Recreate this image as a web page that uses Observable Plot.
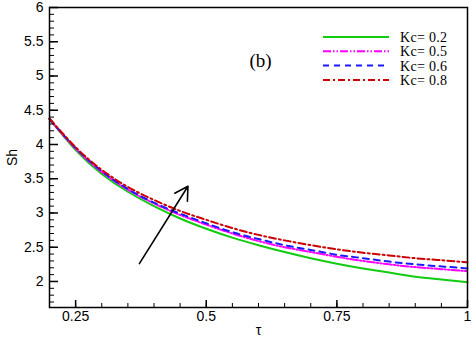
<!DOCTYPE html>
<html>
<head>
<meta charset="utf-8">
<script src="https://cdn.jsdelivr.net/npm/d3@7"></script>
<script src="https://cdn.jsdelivr.net/npm/@observablehq/plot@0.6"></script>
<style>
  html, body { margin: 0; padding: 0; background: #fff; }
  #wrap { position: relative; width: 475px; height: 338px; }
  #legend { position: absolute; left: 0; top: 0; }
</style>
</head>
<body>
<div id="wrap"></div>
<script>
// ---- data ----
const tau = [0.2, 0.25, 0.3, 0.35, 0.4, 0.45, 0.5, 0.55, 0.6, 0.65, 0.7, 0.75, 0.8, 0.85, 0.9, 0.95, 1.0];
const shKc02 = [4.37, 3.92, 3.57, 3.31, 3.10, 2.92, 2.77, 2.64, 2.53, 2.43, 2.34, 2.26, 2.19, 2.13, 2.07, 2.03, 1.99];
const shKc05 = [4.37, 3.94, 3.60, 3.34, 3.14, 2.97, 2.83, 2.70, 2.59, 2.50, 2.43, 2.36, 2.30, 2.25, 2.21, 2.18, 2.15];
const shKc06 = [4.37, 3.95, 3.61, 3.35, 3.15, 2.99, 2.85, 2.72, 2.62, 2.53, 2.46, 2.39, 2.34, 2.29, 2.25, 2.22, 2.19];
const shKc08 = [4.38, 3.96, 3.63, 3.38, 3.19, 3.03, 2.90, 2.78, 2.68, 2.60, 2.53, 2.47, 2.42, 2.38, 2.34, 2.31, 2.28];
const seriesNames = ["Kc= 0.2", "Kc= 0.5", "Kc= 0.6", "Kc= 0.8"];
const seriesValues = [shKc02, shKc05, shKc06, shKc08];
const seriesColors = ["#11cc11", "#ff00ff", "#1a1aff", "#cc0000"];
const seriesDash = [null, "8,2,1.5,2,1.5,2", "6,5", "7,3,2,3"];
const xTicks = [0.25, 0.5, 0.75, 1];
const xTickLabels = ["0.25", "0.5", "0.75", "1"];
const xMinor = d3.range(0.2, 1.0001, 0.05).map(v => +v.toFixed(2));
const yTicks = [2, 2.5, 3, 3.5, 4, 4.5, 5, 5.5, 6];
const yTickLabels = ["2", "2.5", "3", "3.5", "4", "4.5", "5", "5.5", "6"];
const yMinor = d3.range(1.7, 6.0001, 0.1).map(v => +v.toFixed(1));
const arrowData = [{x1: 0.372, y1: 2.26, x2: 0.465, y2: 3.39}];
const panelLabel = "(b)";

const rows = [];
seriesNames.forEach((name, i) => {
  tau.forEach((t, j) => rows.push({series: name, tau: t, sh: seriesValues[i][j]}));
});

const marks = [];
seriesNames.forEach((name, i) => {
  marks.push(Plot.line(rows.filter(d => d.series === name), {
    x: "tau", y: "sh", stroke: seriesColors[i], strokeWidth: 2,
    strokeDasharray: seriesDash[i] || undefined, curve: "natural"
  }));
});

const chart = Plot.plot({
  width: 475, height: 338,
  marginLeft: 49, marginTop: 7, marginRight: 8, marginBottom: 31,
  style: {fontFamily: "'Liberation Sans', Arial, sans-serif", fontSize: "14px", color: "#000", background: "#fff"},
  x: {domain: [0.2, 1]},
  y: {domain: [1.62, 6]},
  marks: [
    ...marks,
    Plot.arrow(arrowData, {x1: "x1", y1: "y1", x2: "x2", y2: "y2", stroke: "#000", strokeWidth: 1.6, headLength: 14}),
    // inward major/minor ticks
    Plot.axisY({ticks: yTicks, tickSize: 9, dx: 9, text: null, label: null, strokeWidth: 1.5}),
    Plot.axisY({ticks: yMinor, tickSize: 5, dx: 5, text: null, label: null, strokeWidth: 1}),
    Plot.axisX({ticks: xTicks, tickSize: 7, dy: -7, text: null, label: null, strokeWidth: 1.5}),
    Plot.axisX({ticks: xMinor, tickSize: 4, dy: -4, text: null, label: null, strokeWidth: 1}),
    // labels
    Plot.axisY({ticks: yTicks, tickSize: 0, tickPadding: 6, tickFormat: d => yTickLabels[yTicks.indexOf(d)],
      label: "Sh", labelAnchor: "center", labelArrow: "none", labelOffset: 42}),
    Plot.axisX({ticks: xTicks, tickSize: 0, tickPadding: 4, tickFormat: d => xTickLabels[xTicks.indexOf(d)],
      label: "τ", labelAnchor: "center", labelArrow: "none", labelOffset: 27}),
    Plot.frame({stroke: "#000", strokeWidth: 1.5}),
    Plot.text([panelLabel], {frameAnchor: "top-left", dx: 211, dy: 53, text: d => d,
      fontFamily: "'Liberation Serif', 'Times New Roman', serif", fontSize: 19, textAnchor: "middle", lineAnchor: "middle"})
  ]
});

const wrap = document.getElementById("wrap");
wrap.appendChild(chart);

// legend overlay (inside the plot, top-right)
const leg = d3.select(wrap).append("svg").attr("id", "legend").attr("width", 475).attr("height", 338);
seriesNames.forEach((name, i) => {
  const y = 37 + i * 14.3;
  leg.append("line").attr("x1", 323).attr("x2", 389).attr("y1", y).attr("y2", y)
    .attr("stroke", seriesColors[i]).attr("stroke-width", 2)
    .attr("stroke-dasharray", seriesDash[i]);
  leg.append("text").attr("x", 400).attr("y", y).attr("dy", "0.35em")
    .attr("font-family", "'Liberation Serif', 'Times New Roman', serif").attr("font-size", 14)
    .attr("letter-spacing", "0.3px")
    .text(name);
});
</script>
</body>
</html>
